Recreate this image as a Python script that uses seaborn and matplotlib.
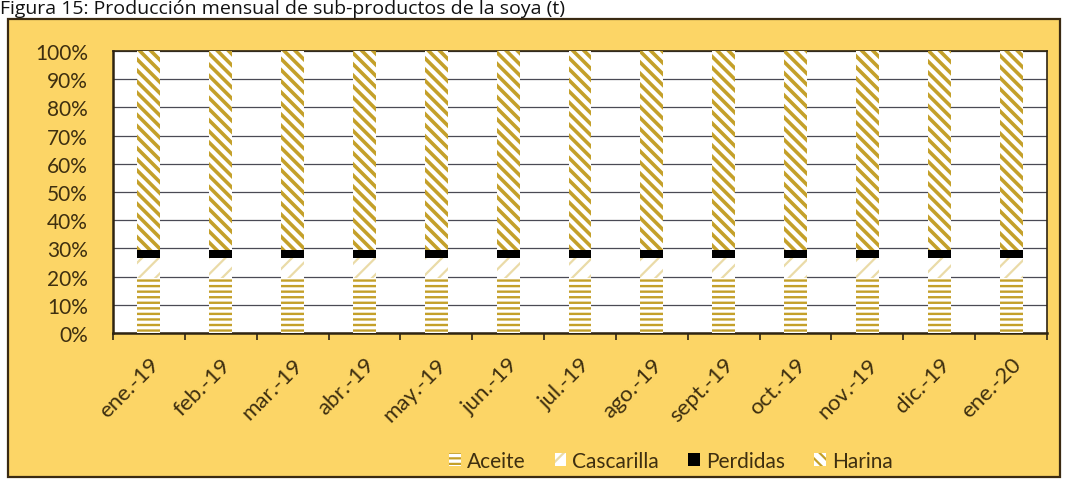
import matplotlib
matplotlib.use("Agg")
import matplotlib.pyplot as plt
from matplotlib.patches import Rectangle, Patch
from matplotlib.ticker import FixedLocator, PercentFormatter
import seaborn as sns
import pandas as pd
import numpy as np

# ---- data (share of monthly output, %) ----
meses = ["ene.-19", "feb.-19", "mar.-19", "abr.-19", "may.-19", "jun.-19", "jul.-19",
         "ago.-19", "sept.-19", "oct.-19", "nov.-19", "dic.-19", "ene.-20"]
aceite =     [19.5, 19.5, 19.5, 19.5, 19.5, 19.5, 19.5, 19.5, 19.5, 19.5, 19.5, 19.5, 19.5]
cascarilla = [7.0, 7.0, 7.0, 7.0, 7.0, 7.0, 7.0, 7.0, 7.0, 7.0, 7.0, 7.0, 7.0]
perdidas =   [3.0, 3.0, 3.0, 3.0, 3.0, 3.0, 3.0, 3.0, 3.0, 3.0, 3.0, 3.0, 3.0]
harina =     [70.5, 70.5, 70.5, 70.5, 70.5, 70.5, 70.5, 70.5, 70.5, 70.5, 70.5, 70.5, 70.5]
series_names = ["Aceite", "Cascarilla", "Perdidas", "Harina"]
titulo = "Figura 15: Producción mensual de sub-productos de la soya (t)"

df = pd.DataFrame({"mes": meses, "Aceite": aceite, "Cascarilla": cascarilla,
                   "Perdidas": perdidas, "Harina": harina})
vals = df[series_names].to_numpy(dtype=float)
share = vals / vals.sum(axis=1, keepdims=True)
cum = np.cumsum(share, axis=1)

sns.set_theme(style="white")
plt.rcParams["font.family"] = ["Lato", "DejaVu Sans"]

W, H = 1066, 481
fig = plt.figure(figsize=(W / 100, H / 100), dpi=100)
fig.patch.set_facecolor("white")

YEL = "#FCD566"
BROWN = "#3E2F10"
GOLD = "#C4A02A"
PALE = "#EADBA8"
FS = 15

# outer yellow frame
fig.patches.append(Rectangle((8 / W, 3 / H), (1060 - 8) / W, (478 - 20) / H,
                             transform=fig.transFigure, facecolor=YEL,
                             edgecolor="#3a2a12", linewidth=1.6, zorder=-10))

# title
fig.text(0.0, 1 - 14.5 / H, titulo, fontsize=14, color="#111111",
         va="baseline", ha="left", family=["Open Sans", "DejaVu Sans"])

ax = fig.add_axes([113 / W, (H - 334) / H, (1047 - 113) / W, (334 - 52) / H])
ax.set_facecolor("white")
ax.set_zorder(2)

styles = {
    "Aceite": dict(color="white", edgecolor=GOLD, hatch="---", hlw=1.7),
    "Cascarilla": dict(color="white", edgecolor=PALE, hatch="//", hlw=1.6),
    "Perdidas": dict(color="black", edgecolor="black", hatch=None, hlw=1.0),
    "Harina": dict(color="white", edgecolor=GOLD, hatch="\\\\\\", hlw=2.6),
}

# draw cumulative bars from the top layer down so each lower layer covers the rest
for i in range(len(series_names) - 1, -1, -1):
    name = series_names[i]
    st = styles[name]
    plt.rcParams["hatch.linewidth"] = st["hlw"]
    n_before = len(ax.patches)
    sns.barplot(x=df["mes"], y=cum[:, i], ax=ax, width=0.32, color=st["color"],
                edgecolor=st["edgecolor"], hatch=st["hatch"], linewidth=0,
                saturation=1, zorder=3)
    for p in ax.patches[n_before:]:
        if hasattr(p, "set_hatch_linewidth"):
            p.set_hatch_linewidth(st["hlw"])

ax.set_xlim(-0.5, len(meses) - 0.5)
ax.set_ylim(0, 1)
ax.set_xlabel("")
ax.set_ylabel("")
ax.yaxis.set_major_locator(FixedLocator(np.arange(0, 1.01, 0.1)))
ax.yaxis.set_major_formatter(PercentFormatter(1.0, decimals=0))
ax.grid(axis="y", color="#4a4a55", linewidth=0.9, zorder=1)
ax.set_axisbelow(True)

for s in ax.spines.values():
    s.set_color("#2e2412")
    s.set_linewidth(1.2)
ax.spines["left"].set_linewidth(1.8)
ax.spines["bottom"].set_linewidth(1.8)

ax.set_xticks(range(len(meses)))
ax.set_xticklabels(meses, rotation=45, ha="right", rotation_mode="anchor",
                   fontsize=16, color=BROWN)
ax.xaxis.set_minor_locator(FixedLocator(np.arange(-0.5, len(meses), 1.0)))
ax.tick_params(axis="x", which="major", length=0, pad=15)
ax.tick_params(axis="x", which="minor", length=5, width=1.2, color="#2e2412",
               direction="out", bottom=True)
ax.tick_params(axis="y", length=0, pad=18, labelsize=FS, labelcolor=BROWN)

plt.rcParams["hatch.linewidth"] = 1.6
handles = [Patch(facecolor=styles[n]["color"], edgecolor=styles[n]["edgecolor"],
                 hatch=styles[n]["hatch"], linewidth=0, label=n) for n in series_names]
fig.legend(handles=handles, loc="center", bbox_to_anchor=(671 / W, 1 - 462 / H),
           ncol=4, frameon=False, fontsize=FS, handlelength=0.55, handleheight=0.55,
           handletextpad=0.3, columnspacing=1.4, labelcolor=BROWN)

fig.savefig("out.png", dpi=100, facecolor=fig.get_facecolor())
